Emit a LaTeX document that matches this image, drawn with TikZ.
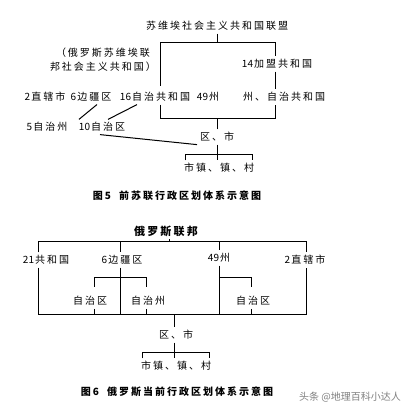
\documentclass[tikz,border=0pt]{standalone}
\usepackage{fontspec}
\newfontfamily\cjk[LetterSpace=20]{Noto Sans CJK SC}
\newfontfamily\cjkmark{Noto Sans CJK SC}
\newcommand\digs[1]{{\cjkmark#1\hspace{1pt}}}

\begin{document}
\begin{tikzpicture}[x=1pt, y=-1pt, line width=1pt,
    lbl/.style={font=\cjk, inner sep=2.5pt},
    capt/.style={font=\cjk\bfseries, inner sep=1pt}]
    \useasboundingbox[fill=white] (0,0) rectangle (412,411);

    % figure 5
        \node[lbl] (ussr) at (217,26) {
            苏维埃社会主义共和国联盟
        };
        \node[lbl, align=center] (rsfsr) at (103,60) {
            （俄罗斯苏维埃联\\[2pt]邦社会主义共和国）
        };
        \node[lbl] (union) at (277,64) {
            \digs{14}加盟共和国
        };
        \node[lbl] (cities) at (45,97) {
            \digs{2}直辖市
        };
        \node[lbl] (krai) at (91,97) {
            \digs{6}边疆区
        };
        \node[lbl] (autrep) at (155,97) {
            \digs{16}自治共和国
        };
        \node[lbl] (oblast) at (208,97) {
            \digs{49}州
        };
        \node[lbl] (oblastR) at (284,97) {
            州、自治共和国
        };
        \node[lbl] (aoblast) at (47,127) {
            \digs{5}自治州
        };
        \node[lbl] (aokrug) at (102,127) {
            \digs{10}自治区
        };
        \node[lbl] (district) at (217,137) {
            区、市
        };
        \node[lbl] (towns) at (219,168) {
            市镇、镇、村
        };
        \node[capt] (capFive) at (177,196) {
            图5\hspace{8pt}前苏联行政区划体系示意图
        };
        \coordinate (tL) at (160,43);
        \coordinate (tR) at (275,43);
        \coordinate (tLend) at (160,86);
        \coordinate (bL) at (160,119);
        \coordinate (bR) at (275,119);
        \coordinate (mL) at (185,155);
        \coordinate (mR) at (252,155);
        \draw (ussr) -- (ussr |- tL);
        \draw (tLend) -- (tL) -- (tR) -- (tR |- union.north);
        \draw (union.south -| tR) -- (oblastR.north -| tR);
        \draw (autrep.south -| bL) -- (bL) -- (bR) -- (oblastR.south -| bR);
        \draw (district) -- (district |- bL);
        \draw ([xshift=6pt]krai.south) -- ([xshift=3pt]aokrug.north west);
        \draw ([xshift=-18pt]autrep.south) -- ([xshift=6pt]aokrug.north);
        \draw ([xshift=-2pt]aokrug.south) -- (district.south west);
        \draw (district) -- (district |- towns.north);
        \draw (mL |- towns.north) -- (mL) -- (mR) -- (mR |- towns.north);

    % figure 6
        \node[lbl, font=\cjk\bfseries\fontsize{11}{13}\selectfont] (russia) at (166,231) {
            俄罗斯联邦
        };
        \node[lbl] (rep) at (46,260) {
            \digs{21}共和国
        };
        \node[lbl] (kr) at (122,260) {
            \digs{6}边疆区
        };
        \node[lbl] (ob) at (219,258) {
            \digs{49}州
        };
        \node[lbl] (fedcity) at (305,260) {
            \digs{2}直辖市
        };
        \node[lbl] (krAR) at (90,301) {
            自治区
        };
        \node[lbl] (krAO) at (148,301) {
            自治州
        };
        \node[lbl] (obAR) at (253,301) {
            自治区
        };
        \node[lbl] (district2) at (176,335) {
            区、市
        };
        \node[lbl] (towns2) at (176,366) {
            市镇、镇、村
        };
        \node[capt] (capSix) at (177,392) {
            图6\hspace{8pt}俄罗斯当前行政区划体系示意图
        };
        \node[font=\cjkmark, text=black!50, inner sep=0pt] (mark) at (350,397) {
            头条 @地理百科小达人
        };
        \coordinate (uL) at (38,242);
        \coordinate (uM) at (169,242);
        \coordinate (uR) at (306,242);
        \coordinate (cK) at (120,242);
        \coordinate (cO) at (219,242);
        \coordinate (dL) at (38,315);
        \coordinate (dM) at (174,315);
        \coordinate (dR) at (306,315);
        \coordinate (s1) at (94,278);
        \coordinate (s2) at (146,278);
        \coordinate (s3) at (251,278);
        \coordinate (s1e) at (94,287);
        \coordinate (s2e) at (146,287);
        \coordinate (s3e) at (251,287);
        \coordinate (s1b) at (94,309);
        \coordinate (s2b) at (146,309);
        \coordinate (s3b) at (251,309);
        \coordinate (qL) at (142,352);
        \coordinate (qR) at (209,352);
        \draw (uM |- russia.south) -- (uM);
        \draw (rep.north -| uL) -- (uL) -- (uR) -- (fedcity.north -| uR);
        \draw (cK) -- (cK |- kr.north);
        \draw (cO) -- (cO |- ob.north);
        \draw (rep.south -| dL) -- (dL) -- (dR) -- (fedcity.south -| dR);
        \draw (kr.south -| cK) -- (cK |- dL);
        \draw (ob.south -| cO) -- (cO |- dL);
        \draw (s1e) -- (s1) -- (s2) -- (s2e);
        \draw (cO |- s3) -- (s3) -- (s3e);
        \draw (s1b) -- (s1b |- dL);
        \draw (s2b) -- (s2b |- dL);
        \draw (s3b) -- (s3b |- dL);
        \draw (dM) -- (dM |- district2.north);
        \draw (dM |- district2.south) -- (dM |- towns2.north);
        \draw (qL |- towns2.north) -- (qL) -- (qR) -- (qR |- towns2.north);
\end{tikzpicture}
\end{document}
